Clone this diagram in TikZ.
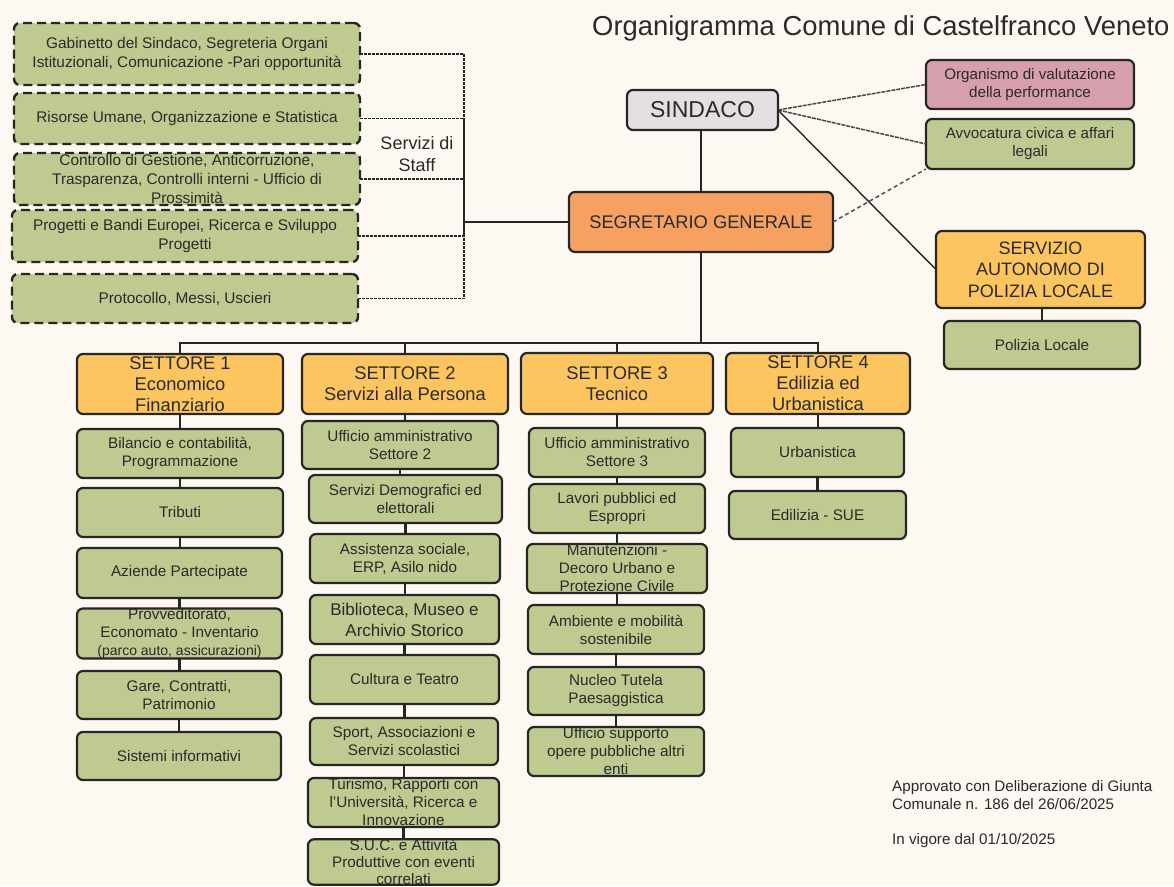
\documentclass[tikz,border=0pt]{standalone}
\usepackage{fontspec}
\setmainfont{Liberation Sans}
\definecolor{bg}{HTML}{FDF9F2}
\definecolor{gr}{HTML}{BFCA90}
\definecolor{yl}{HTML}{FCC55F}
\definecolor{orn}{HTML}{F6A161}
\definecolor{pk}{HTML}{D79FAE}
\definecolor{gy}{HTML}{E3DFE3}
\definecolor{ink}{HTML}{2A2A2A}
\definecolor{edge}{HTML}{262626}
\newcommand\fsz[2]{\fontsize{#1}{#2}\selectfont}
\newcommand\bx[7]{%
  \pgfmathsetmacro\bxw{#5-#3}\pgfmathsetmacro\bxh{#6-#4}%
  \pgfmathsetmacro\bxx{(#5+#3)/2}\pgfmathsetmacro\bxy{(#6+#4)/2}%
  \node[#1,minimum width=\bxw pt,minimum height=\bxh pt] (#2) at (\bxx,\bxy) {#7};}
\tikzset{
  x=1pt,y=-1pt,
  box/.style={draw=edge,line width=2.2pt,rounded corners=6pt,inner sep=0pt,outer sep=0pt,align=center,text=ink},
  unit/.style={box,fill=gr,font=\fsz{15.3}{18}},
  staff/.style={box,fill=gr,dash pattern=on 9pt off 5pt,line width=2.4pt,font=\fsz{15.4}{19}},
  sector/.style={box,fill=yl,font=\fsz{18.3}{21}},
  link/.style={draw=edge,line width=2.4pt},
  thin link/.style={draw=edge,line width=1.4pt},
  staff link/.style={draw=edge,line width=1.3pt,dash pattern=on 3pt off 1pt},
  grey link/.style={draw=edge!85,line width=1.5pt,dash pattern=on 4pt off 1pt},
  sparse link/.style={draw=edge!80,line width=1.5pt,dash pattern=on 4pt off 3pt},
}
\begin{document}
\begin{tikzpicture}
\fill[bg] (0,0) rectangle (1174,886);
\useasboundingbox (0,0) rectangle (1174,886);
% staff boxes
\bx{staff}{st1}{14}{23}{360}{85}{Gabinetto del Sindaco, Segreteria Organi\\Istituzionali, Comunicazione -Pari opportunità}
\bx{staff}{st2}{14}{93}{360}{144}{Risorse Umane, Organizzazione e Statistica}
\bx{staff}{st3}{14}{153}{360}{205}{Controllo di Gestione, Anticorruzione,\\Trasparenza, Controlli interni - Ufficio di\\Prossimità}
\bx{staff}{st4}{12}{210}{358}{262}{Progetti e Bandi Europei, Ricerca e Sviluppo\\Progetti}
\bx{staff}{st5}{12}{274}{358}{323}{Protocollo, Messi, Uscieri}
\node[font=\fsz{18}{22},text=ink,align=center] (stafflabel) at (417,154) {Servizi di\\Staff};
% top
\bx{box,fill=gy,font=\fsz{23}{26}}{sind}{627}{90}{778}{130}{SINDACO}
\bx{box,fill=orn,font=\fsz{18.3}{21}}{seg}{569}{192}{833}{252}{SEGRETARIO GENERALE}
\bx{box,fill=pk,font=\fsz{15.2}{18}}{org}{926}{60}{1134}{109}{Organismo di valutazione\\della performance}
\bx{unit,font=\fsz{15.2}{18}}{avv}{926}{119}{1134}{169}{Avvocatura civica e affari\\legali}
\bx{sector,font=\fsz{18}{21.5}}{srv}{936}{231}{1145}{308}{SERVIZIO\\AUTONOMO DI\\POLIZIA LOCALE}
\bx{unit}{pol}{944}{321}{1140}{369}{Polizia Locale}
% sector 1
\bx{sector}{s1}{77}{354}{283}{414}{SETTORE 1\\Economico\\Finanziario}
\bx{unit}{s1a}{77}{429}{283}{478}{Bilancio e contabilità,\\Programmazione}
\bx{unit}{s1b}{77}{488}{283}{537}{Tributi}
\bx{unit}{s1c}{77}{548}{282}{598}{Aziende Partecipate}
\bx{unit}{s1d}{77}{609}{282}{658}{Provveditorato,\\Economato - Inventario\\{\fsz{14}{18}(parco auto, assicurazioni)}}
\bx{unit}{s1e}{77}{671}{281}{719}{Gare, Contratti,\\Patrimonio}
\bx{unit}{s1f}{77}{732}{281}{780}{Sistemi informativi}
% sector 2
\bx{sector}{s2}{302}{354}{508}{414}{SETTORE 2\\Servizi alla Persona}
\bx{unit}{s2a}{302}{421}{498}{469}{Ufficio amministrativo\\Settore 2}
\bx{unit}{s2b}{309}{475}{502}{523}{Servizi Demografici ed\\elettorali}
\bx{unit}{s2c}{310}{534}{500}{583}{Assistenza sociale,\\ERP, Asilo nido}
\bx{unit,font=\fsz{17}{21}}{s2d}{310}{595}{499}{644}{Biblioteca, Museo e\\Archivio Storico}
\bx{unit}{s2e}{310}{655}{499}{704}{Cultura e Teatro}
\bx{unit}{s2f}{310}{718}{498}{765}{Sport, Associazioni e\\Servizi scolastici}
\bx{unit}{s2g}{308}{778}{499}{827}{Turismo, Rapporti con\\l'Università, Ricerca e\\Innovazione}
\bx{unit,font=\fsz{15.3}{17}}{s2h}{308}{840}{499}{884}{S.U.C. e Attività\\Produttive con eventi\\correlati}
% sector 3
\bx{sector}{s3}{521}{353}{713}{414}{SETTORE 3\\Tecnico}
\bx{unit}{s3a}{529}{428}{705}{477}{Ufficio amministrativo\\Settore 3}
\bx{unit}{s3b}{529}{484}{705}{533}{Lavori pubblici ed\\Espropri}
\bx{unit}{s3c}{527}{544}{707}{593}{Manutenzioni -\\Decoro Urbano e\\Protezione Civile}
\bx{unit}{s3d}{528}{605}{704}{654}{Ambiente e mobilità\\sostenibile}
\bx{unit}{s3e}{528}{667}{704}{715}{Nucleo Tutela\\Paesaggistica}
\bx{unit}{s3f}{528}{727}{704}{776}{Ufficio supporto\\opere pubbliche altri\\enti}
% sector 4
\bx{sector}{s4}{726}{353}{910}{414}{SETTORE 4\\Edilizia ed\\Urbanistica}
\bx{unit}{s4a}{731}{428}{904}{477}{Urbanistica}
\bx{unit}{s4b}{729}{491}{906}{539}{Edilizia - SUE}
% title and notes
\node[anchor=west,inner sep=0pt,font=\fsz{27.4}{30},text=ink] (title) at (592,28) {Organigramma Comune di Castelfranco Veneto};
\node[anchor=west,inner sep=0pt,align=left,font=\fsz{15.2}{18},text=ink] (note1) at (892,795) {Approvato con Deliberazione di Giunta\\Comunale n. 186 del 26/06/2025};
\node[anchor=west,inner sep=0pt,font=\fsz{15.2}{18},text=ink] (note2) at (892,841) {In vigore dal 01/10/2025};
% connectors
\coordinate (staffbus) at (464,222);
\coordinate (secbus) at (701,343);
\foreach \n in {st1,st2,st3,st4,st5} \draw[staff link] (\n.east) -| (staffbus);
\draw[thin link] (staffbus) -- (seg.west);
\draw[link] (sind.south -| seg.north) -- (seg.north);
\draw[thin link] (seg.south) -- (secbus);
\foreach \n in {s1,s2,s3,s4} \draw[thin link] (secbus) -| (\n.north);
\draw[grey link] (sind.east) -- (org.west);
\draw[grey link] (sind.east) -- (avv.west);
\draw[thin link] (sind.east) -- (srv.west);
\draw[sparse link] (seg.east) -- (avv.south west);
\draw[link] (srv.south -| pol.north) -- (pol.north);
\foreach \a/\b in {s1/s1a,s1a/s1b,s1b/s1c,s1c/s1d,s1d/s1e,s1e/s1f,
  s2/s2a,s2a/s2b,s2b/s2c,s2c/s2d,s2d/s2e,s2e/s2f,s2f/s2g,s2g/s2h,
  s3/s3a,s3a/s3b,s3b/s3c,s3c/s3d,s3d/s3e,s3e/s3f,
  s4/s4a,s4a/s4b} \draw[link] (\a.south) -- (\a.south |- \b.north);
\end{tikzpicture}
\end{document}
